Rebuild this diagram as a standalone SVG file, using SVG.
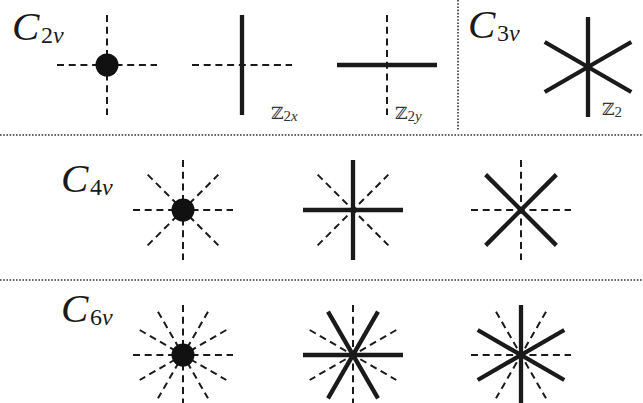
<svg xmlns="http://www.w3.org/2000/svg" xmlns:xlink="http://www.w3.org/1999/xlink" width="643" height="403" viewBox="0 0 643 403">
<style>
.sol{stroke:#1a1a1a;stroke-width:4.3;fill:none}
.dsh{stroke:#1a1a1a;stroke-width:2;stroke-dasharray:7 4.7;fill:none}
.dot{stroke:#333;stroke-width:1.6;stroke-dasharray:1.6 1.6;fill:none}
.lab{font-family:"Liberation Serif",serif;font-style:italic;fill:#1a1a1a}
.big{font-size:41px}
.sub{font-size:24px}
.up{font-style:normal}
.zz{font-family:"DejaVu Serif","DejaVu Sans",serif;font-size:17px;fill:#333}
.zs{font-family:"Liberation Serif",serif;font-size:15px;fill:#333}
</style>
<defs>
<line id="s" class="sol" x1="-50" y1="0" x2="50" y2="0"/>
<line id="d" class="dsh" x1="-50" y1="0" x2="50" y2="0"/>
</defs>
<g id="separators">
<line class="dot" x1="0" y1="135" x2="643" y2="135"/>
<line class="dot" x1="0" y1="280" x2="643" y2="280"/>
<line class="dot" x1="458" y1="0" x2="458" y2="131"/>
</g>
<g id="label-c2v"><text class="lab big" x="12" y="40">C</text><text class="lab sub" x="41" y="43"><tspan class="up">2</tspan>v</text></g>
<g id="label-c3v"><text class="lab big" x="468" y="38">C</text><text class="lab sub" x="497" y="41"><tspan class="up">3</tspan>v</text></g>
<g id="label-c4v"><text class="lab big" x="61" y="192">C</text><text class="lab sub" x="90" y="195"><tspan class="up">4</tspan>v</text></g>
<g id="label-c6v"><text class="lab big" x="61" y="322">C</text><text class="lab sub" x="90" y="325"><tspan class="up">6</tspan>v</text></g>
<g id="c2v-a" transform="translate(107,65)">
<use xlink:href="#d"/><use xlink:href="#d" transform="rotate(90)"/>
<circle r="11.5" fill="#111"/>
</g>
<g id="c2v-b" transform="translate(242,65)">
<use xlink:href="#d"/><use xlink:href="#s" transform="rotate(90)"/>
<text class="zz" x="29" y="54">ℤ<tspan class="zs" dy="2">2<tspan font-style="italic">x</tspan></tspan></text>
</g>
<g id="c2v-c" transform="translate(387,65)">
<use xlink:href="#s"/><use xlink:href="#d" transform="rotate(90)"/>
<text class="zz" x="8" y="54">ℤ<tspan class="zs" dy="2">2<tspan font-style="italic">y</tspan></tspan></text>
</g>
<g id="c3v" transform="translate(588,67)">
<use xlink:href="#s" transform="rotate(90)"/><use xlink:href="#s" transform="rotate(30)"/><use xlink:href="#s" transform="rotate(-30)"/>
<text class="zz" x="14" y="48">ℤ<tspan class="zs" dy="2">2</tspan></text>
</g>
<g id="c4v-a" transform="translate(183,210)">
<use xlink:href="#d"/><use xlink:href="#d" transform="rotate(90)"/><use xlink:href="#d" transform="rotate(45)"/><use xlink:href="#d" transform="rotate(-45)"/>
<circle r="11.5" fill="#111"/>
</g>
<g id="c4v-b" transform="translate(353,210)">
<use xlink:href="#d" transform="rotate(45)"/><use xlink:href="#d" transform="rotate(-45)"/>
<use xlink:href="#s"/><use xlink:href="#s" transform="rotate(90)"/>
</g>
<g id="c4v-c" transform="translate(521,210)">
<use xlink:href="#d"/><use xlink:href="#d" transform="rotate(90)"/>
<use xlink:href="#s" transform="rotate(45)"/><use xlink:href="#s" transform="rotate(-45)"/>
</g>
<g id="c6v-a" transform="translate(183,355)">
<use xlink:href="#d"/><use xlink:href="#d" transform="rotate(30)"/><use xlink:href="#d" transform="rotate(60)"/><use xlink:href="#d" transform="rotate(90)"/><use xlink:href="#d" transform="rotate(120)"/><use xlink:href="#d" transform="rotate(150)"/>
<circle r="11.5" fill="#111"/>
</g>
<g id="c6v-b" transform="translate(353,355)">
<use xlink:href="#d" transform="rotate(30)"/><use xlink:href="#d" transform="rotate(90)"/><use xlink:href="#d" transform="rotate(150)"/>
<use xlink:href="#s"/><use xlink:href="#s" transform="rotate(60)"/><use xlink:href="#s" transform="rotate(120)"/>
</g>
<g id="c6v-c" transform="translate(521,355)">
<use xlink:href="#d"/><use xlink:href="#d" transform="rotate(60)"/><use xlink:href="#d" transform="rotate(120)"/>
<use xlink:href="#s" transform="rotate(90)"/><use xlink:href="#s" transform="rotate(30)"/><use xlink:href="#s" transform="rotate(-30)"/>
</g>
</svg>
